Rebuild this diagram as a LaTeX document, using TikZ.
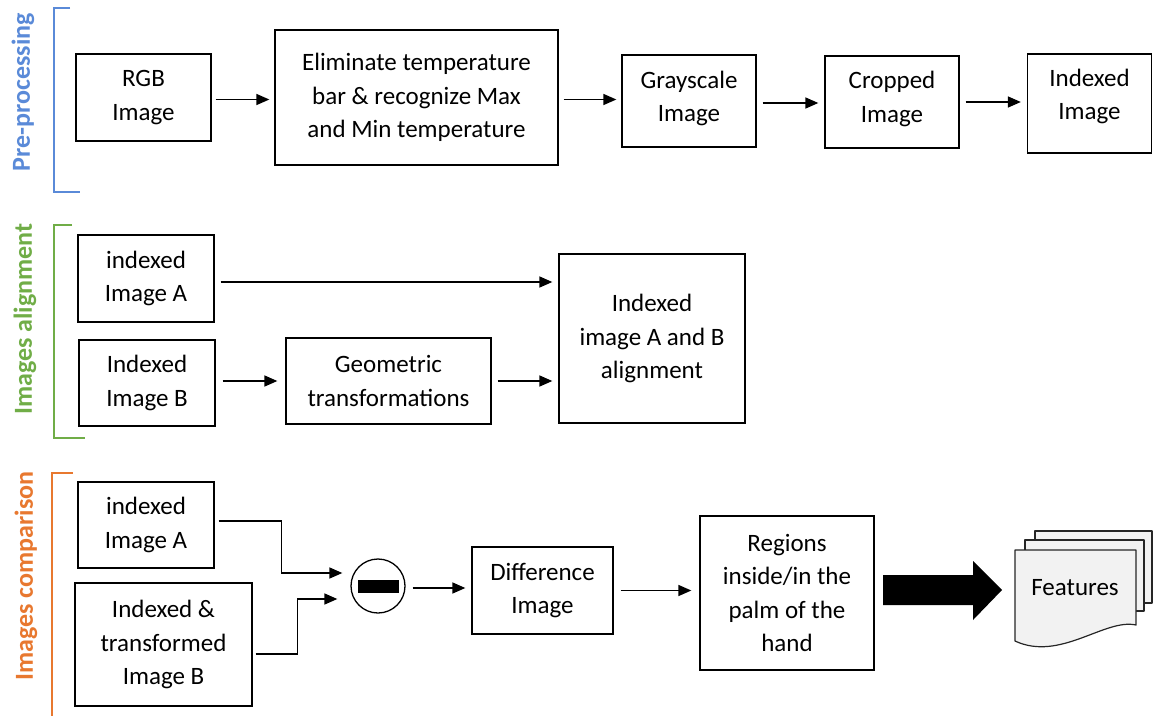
\documentclass[tikz,border=0pt]{standalone}
\usepackage{fontspec}
\setmainfont{Carlito}
\usetikzlibrary{arrows.meta,calc}
\definecolor{ppblue}{HTML}{5A8AD8}
\definecolor{algreen}{HTML}{70AD47}
\definecolor{cmorange}{HTML}{E8782F}
\definecolor{pagefill}{HTML}{F2F2F2}
\begin{document}
\begin{tikzpicture}[x=1pt,y=-1pt,
  txt/.style={align=center, font=\fontsize{25}{33.5}\selectfont, inner sep=0pt, anchor=center},
  box/.style={txt, draw=black, line width=1.3pt},
  bx/.style 2 args={box, minimum width=#1pt, minimum height=#2pt},
  arr/.style={line width=1.5pt, -{Triangle[length=13pt,width=11pt]}},
  lab/.style={rotate=90, font=\fontsize{26}{30}\selectfont\bfseries, anchor=center},
  brk/.style={line width=1.6pt},
  pg/.style={fill=pagefill, draw=black!85, line width=1.2pt, line join=round}
]
\useasboundingbox (0,0) rectangle (1153,715);

% ---------- Pre-processing ----------
\draw[brk, ppblue] (70,8) -- (54,8) -- (54,192) -- (80,192);
\node[lab, text=ppblue] (lpp) at (23,92) {Pre-processing};

\node[bx={135}{87}] (rgb) at (143.5,97.5) {RGB\\Image};
\node[bx={283}{135}] (elim) at (416.5,97.5) {Eliminate temperature\\bar \& recognize Max\\and Min temperature};
\node[bx={134}{92}] (gray) at (689,101) {};
\node[txt] (grayt) at ($(gray.center)+(0,-2.5)$) {Grayscale\\Image};
\node[bx={134}{92}] (crop) at (892,102) {};
\node[txt] (cropt) at ($(crop.center)+(0,-3)$) {Cropped\\Image};
\node[bx={124}{99}] (idx) at (1089.5,103.5) {};
\node[txt] (idxt) at ($(idx.center)+(0,-7)$) {Indexed\\Image};

\draw[arr, shorten <=4pt, shorten >=5pt] ([yshift=-2pt]rgb.east) -- ([yshift=-2pt]rgb.east -| elim.west);
\draw[arr, shorten <=5pt, shorten >=5pt] ([yshift=-2pt]elim.east) -- ([yshift=-2pt]elim.east -| gray.west);
\draw[arr, shorten <=6pt, shorten >=6pt] ([yshift=-2pt]gray.east) -- ([yshift=-2pt]gray.east -| crop.west);
\draw[arr, shorten <=6pt, shorten >=6pt] (crop.east) -- (crop.east -| idx.west);

% ---------- Images alignment ----------
\draw[brk, algreen] (72,225) -- (54,225) -- (54,438) -- (85,438);
\node[lab, text=algreen] (lal) at (25,319) {Images alignment};

\node[bx={136}{87}] (alA) at (146,278.5) {indexed\\Image A};
\node[bx={136}{86}] (alB) at (147,383) {Indexed\\Image B};
\node[bx={205}{86}] (geo) at (388.5,381) {Geometric\\transformations};
\node[bx={186}{169}] (align) at (652,338.5) {Indexed\\image A and B\\alignment};

\draw[arr, shorten <=6pt, shorten >=6pt] ([yshift=-3.5pt]alA.east) -- ([yshift=-3.5pt]alA.east -| align.west);
\draw[arr, shorten <=7pt, shorten >=8pt] ([yshift=2pt]alB.east) -- ([yshift=2pt]alB.east -| geo.west);
\draw[arr, shorten <=6pt, shorten >=6pt] (geo.east) -- (geo.east -| align.west);

% ---------- Images comparison ----------
\draw[brk, cmorange] (73,473) -- (52,473) -- (52,716);
\node[lab, text=cmorange] (lcm) at (26,576) {Images comparison};

\node[bx={136}{86}] (cmA) at (146,525) {indexed\\Image A};
\node[bx={177}{123}] (cmB) at (163.5,644.5) {Indexed \&\\transformed\\Image B};
\node[circle, draw=black, line width=1.3pt, minimum size=54pt, inner sep=0pt] (minus) at (378,586) {\rule{41pt}{13pt}};
\node[bx={141}{87}] (diff) at (542.5,590.5) {Difference\\Image};
\node[bx={174}{154}] (reg) at (787,593) {Regions\\inside/in the\\palm of the\\hand};

\draw[arr] ([xshift=4pt,yshift=4pt]cmA.east) -- ++(63,0) |- ([xshift=-8pt,yshift=13pt]minus.west);
\draw[arr] ([xshift=3pt,yshift=-9.5pt]cmB.east) -- ++(42,0) |- ([xshift=-13pt,yshift=-13pt]minus.west);
\draw[arr, shorten <=7pt, shorten >=6pt] ([yshift=-2pt]minus.east) -- ([yshift=-2pt]minus.east -| diff.west);
\draw[arr, shorten <=7pt, shorten >=8pt] (diff.east) -- (diff.east -| reg.west);

% Features document stack
\filldraw[pg] (1035,531) rectangle (1152,603);
\filldraw[pg] (1025,540) rectangle (1144,611);
\filldraw[pg] (1015,550) -- (1136,550) -- (1136,625)
   .. controls (1105,618) and (1060,662) .. (1015,641) -- cycle;
\node[font=\fontsize{25}{30}\selectfont, inner sep=0pt] (feat) at (1075,588) {Features};

% big arrow
\fill[black] (883,575) -- (973,575) -- (973,561) -- (1002,590) -- (973,620) -- (973,605) -- (883,605) -- cycle;
\end{tikzpicture}
\end{document}
